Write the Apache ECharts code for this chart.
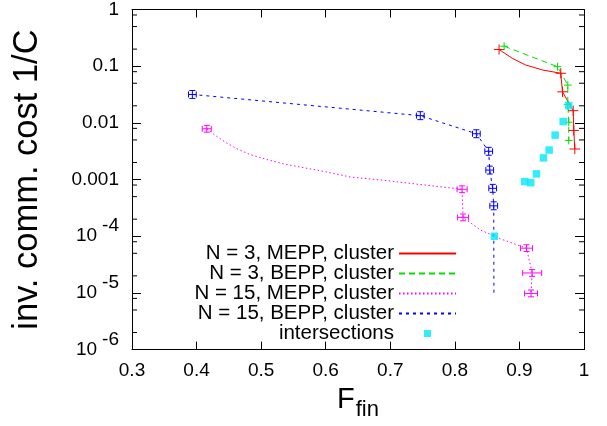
<!DOCTYPE html>
<html><head><meta charset="utf-8">
<script src="https://cdn.jsdelivr.net/npm/echarts@6/dist/echarts.min.js"></script>
<style>html,body{margin:0;padding:0;background:#fff}#c{width:607px;height:426px}</style>
</head><body><div id="c"></div>
<script>
const FONT = '"Liberation Sans", Arial, Helvetica, sans-serif';

const seriesNames = ['N = 3, MEPP, cluster', 'N = 3, BEPP, cluster', 'N = 15, MEPP, cluster', 'N = 15, BEPP, cluster', 'intersections'];

// N = 3, MEPP (points with error bars)
const m3F = [0.8685, 0.9640, 0.9667, 0.9833, 0.9842, 0.9857];
const m3C = [0.197, 0.075, 0.0353, 0.0164, 0.00735, 0.00346];
const m3Xerr = [0.008, 0.008, 0.008, 0.008, 0.008, 0.008];
// extra points along the drawn curve, inserted after point index
const m3CurveF = [0.8891, 0.9098, 0.9357];
const m3CurveC = [0.1374, 0.1048, 0.0857];
const m3CurveAfter = [0, 0, 0];

// N = 3, BEPP
const b3F = [0.8763, 0.9590, 0.9749, 0.9749, 0.9764, 0.9764];
const b3C = [0.225, 0.098, 0.0463, 0.0212, 0.01026, 0.0049];
const b3Xerr = [0.006, 0.006, 0.006, 0.006, 0.006, 0.006];

// N = 15, MEPP
const m15F = [0.4158, 0.8112, 0.8127, 0.9109, 0.9197, 0.9180];
const m15C = [0.00787, 0.000674, 0.000215, 0.0000616, 0.0000225, 0.0000098];
const m15Xerr = [0.007, 0.0078, 0.0085, 0.0093, 0.0147, 0.010];
const m15CurveF = [0.4313, 0.4468, 0.4623, 0.4829, 0.5088, 0.5346, 0.5605, 0.5864, 0.638, 0.6896, 0.7414, 0.8395, 0.8705];
const m15CurveC = [0.00577, 0.0044, 0.00351, 0.00276, 0.00226, 0.00189, 0.00166, 0.00147, 0.00111, 0.00097, 0.00083, 0.000129, 0.00009];
const m15CurveAfter = [0, 0, 0, 0, 0, 0, 0, 0, 0, 0, 0, 2, 2];

// N = 15, BEPP
const b15F = [0.3935, 0.7465, 0.8333, 0.8524, 0.8540, 0.8586, 0.8602];
const b15C = [0.0317, 0.0134, 0.00643, 0.00315, 0.00147, 0.0007, 0.000344];
const b15Xerr = [0.006, 0.006, 0.006, 0.006, 0.006, 0.006, 0.006];
const b15CurveF = [0.8605];
const b15CurveC = [0.00001];
const b15CurveAfter = [6];

// intersections
const intF = [0.9764, 0.9677, 0.9553, 0.9460, 0.9372, 0.9264, 0.9175, 0.9082, 0.8612];
const intC = [0.0201, 0.01055, 0.00608, 0.00332, 0.00241, 0.00126, 0.00088, 0.00092, 0.0001];

function buildLine(F, C, cF, cC, cAfter) {
  const out = [];
  for (let i = 0; i < F.length; i++) {
    out.push([F[i], C[i]]);
    if (cF) for (let j = 0; j < cF.length; j++) if (cAfter[j] === i) out.push([cF[j], cC[j]]);
  }
  return out;
}
function buildErr(F, C, xe, ye) {
  return F.map((f, i) => [f, C[i], xe[i], ye]);
}

function errRender(color, cap) {
  return function (params, api) {
    const x = api.value(0), y = api.value(1), xe = api.value(2), ye = api.value(3);
    const c = api.coord([x, y]);
    const l = api.coord([x - xe, y]), r = api.coord([x + xe, y]);
    const t = api.coord([x, y * Math.pow(10, ye)]), b = api.coord([x, y / Math.pow(10, ye)]);
    const style = { stroke: color, lineWidth: 1, fill: null };
    const ch = [
      { type: 'line', shape: { x1: l[0], y1: c[1], x2: r[0], y2: c[1] }, style: style },
      { type: 'line', shape: { x1: c[0], y1: t[1], x2: c[0], y2: b[1] }, style: style }
    ];
    if (cap) {
      ch.push({ type: 'line', shape: { x1: l[0], y1: c[1] - cap, x2: l[0], y2: c[1] + cap }, style: style });
      ch.push({ type: 'line', shape: { x1: r[0], y1: c[1] - cap, x2: r[0], y2: c[1] + cap }, style: style });
      ch.push({ type: 'line', shape: { x1: c[0] - cap, y1: t[1], x2: c[0] + cap, y2: t[1] }, style: style });
      ch.push({ type: 'line', shape: { x1: c[0] - cap, y1: b[1], x2: c[0] + cap, y2: b[1] }, style: style });
    }
    return { type: 'group', children: ch };
  };
}

// minor log ticks (2, 5, 8 per decade)
const minorTickVals = [];
for (let d = -6; d < 0; d++) [2, 5, 8].forEach(k => minorTickVals.push(k * Math.pow(10, d)));

const COLORS = ['#ff0000', '#00e000', '#ff00ff', '#0000ff', '#00e8ff'];

function yLabel(v) {
  const e = Math.round(Math.log10(v));
  if (e >= -3) return e === 0 ? '1' : (e === -1 ? '0.1' : (e === -2 ? '0.01' : '0.001'));
  return '{b|10}{s|' + e + '}';
}

const lineSeries = (name, data, color, type) => ({
  name: name, type: 'line', data: data, showSymbol: false, symbol: 'none',
  lineStyle: { color: color, width: 1, type: type }, itemStyle: { color: color },
  silent: true, z: 2
});
const errSeries = (data, color, cap) => ({
  name: '_err', type: 'custom', data: data, renderItem: errRender(color, cap),
  silent: true, z: 3, encode: { x: 0, y: 1 }
});

const chart = echarts.init(document.getElementById('c'), null, { renderer: 'canvas' });
chart.setOption({
  animation: false,
  backgroundColor: '#fff',
  textStyle: { fontFamily: FONT },
  grid: { left: 132, right: 23, top: 7, bottom: 76, containLabel: false },
  legend: {
    data: [
      { name: seriesNames[0], itemStyle: { opacity: 0 } },
      { name: seriesNames[1], itemStyle: { opacity: 0 } },
      { name: seriesNames[2], itemStyle: { opacity: 0 } },
      { name: seriesNames[3], itemStyle: { opacity: 0 } },
      { name: seriesNames[4], icon: 'path://M0,0M16,16M4,4h8v8h-8z' }
    ],
    orient: 'vertical', align: 'right', right: 145, top: 238,
    itemWidth: 57, itemHeight: 14, itemGap: -1,
    textStyle: { fontSize: 20.5, color: '#000', fontFamily: FONT, lineHeight: 19.6 },
    selectedMode: false
  },
  xAxis: [{
    type: 'value', min: 0.3, max: 1, interval: 0.1,
    name: '{a|F}{b|fin}', nameLocation: 'middle', nameGap: 22,
    nameTextStyle: { rich: {
      a: { fontSize: 29, fontFamily: FONT, color: '#000', verticalAlign: 'middle' },
      b: { fontSize: 22, fontFamily: FONT, color: '#000', verticalAlign: 'middle', padding: [20, 0, 0, 1] }
    } },
    axisLine: { show: true, lineStyle: { color: '#000', width: 1 } },
    axisTick: { show: true, inside: true, length: 8, lineStyle: { color: '#000' } },
    axisLabel: { fontSize: 19, color: '#000', margin: 12, fontFamily: FONT,
      formatter: v => String(Math.round(v * 10) / 10) },
    splitLine: { show: false }
  }, {
    type: 'value', min: 0.3, max: 1, interval: 0.1, position: 'top',
    axisLine: { show: true, lineStyle: { color: '#000', width: 1 } },
    axisTick: { show: true, inside: true, length: 8, lineStyle: { color: '#000' } },
    axisLabel: { show: false }, splitLine: { show: false }
  }],
  yAxis: [{
    type: 'log', logBase: 10, min: 1e-6, max: 1, splitNumber: 6,
    name: 'inv. comm. cost 1/C', nameLocation: 'middle', nameGap: 87,
    nameTextStyle: { fontSize: 34.5, color: '#000', fontFamily: FONT },
    axisLine: { show: true, lineStyle: { color: '#000', width: 1 } },
    axisTick: { show: true, inside: true, length: 9, lineStyle: { color: '#000' } },
    axisLabel: { fontSize: 19, color: '#000', margin: 13, fontFamily: FONT, formatter: yLabel,
      rich: {
        b: { fontSize: 19, fontFamily: FONT, color: '#000', verticalAlign: 'middle' },
        s: { fontSize: 19, fontFamily: FONT, color: '#000', verticalAlign: 'middle', padding: [0, 0, 20, 5] }
      } },
    splitLine: { show: false }, minorTick: { show: false }
  }, {
    type: 'log', logBase: 10, min: 1e-6, max: 1, splitNumber: 6, position: 'right',
    axisLine: { show: true, lineStyle: { color: '#000', width: 1 } },
    axisTick: { show: true, inside: true, length: 9, lineStyle: { color: '#000' } },
    axisLabel: { show: false }, splitLine: { show: false }
  }],
  series: [
    lineSeries(seriesNames[0], buildLine(m3F, m3C, m3CurveF, m3CurveC, m3CurveAfter), COLORS[0], 'solid'),
    lineSeries(seriesNames[1], buildLine(b3F, b3C), COLORS[1], [6, 4]),
    lineSeries(seriesNames[2], buildLine(m15F, m15C, m15CurveF, m15CurveC, m15CurveAfter), COLORS[2], [1.5, 2.5]),
    lineSeries(seriesNames[3], buildLine(b15F, b15C, b15CurveF, b15CurveC, b15CurveAfter), COLORS[3], [3, 4]),
    {
      name: seriesNames[4], type: 'scatter', symbol: 'rect', symbolSize: 7.5,
      data: intF.map((f, i) => [f, intC[i]]), itemStyle: { color: COLORS[4] }, silent: true, z: 5
    },
    errSeries(buildErr(m3F, m3C, m3Xerr, 0.09), COLORS[0], 0),
    errSeries(buildErr(b3F, b3C, b3Xerr, 0.07), COLORS[1], 0),
    errSeries(buildErr(m15F, m15C, m15Xerr, 0.06), COLORS[2], 3),
    errSeries(buildErr(b15F, b15C, b15Xerr, 0.07), COLORS[3], 3),
    {
      name: '_minor', type: 'custom', data: minorTickVals.map(v => [0.3, v]), clip: false, silent: true, z: 1,
      renderItem: function (params, api) {
        const v = api.value(1);
        const L = api.coord([0.3, v]), R = api.coord([1, v]);
        const st = { stroke: '#000', lineWidth: 1 };
        return { type: 'group', children: [
          { type: 'line', shape: { x1: L[0], y1: L[1], x2: L[0] + 5, y2: L[1] }, style: st },
          { type: 'line', shape: { x1: R[0] - 5, y1: R[1], x2: R[0], y2: R[1] }, style: st }
        ] };
      }
    }
  ]
});
</script></body></html>
